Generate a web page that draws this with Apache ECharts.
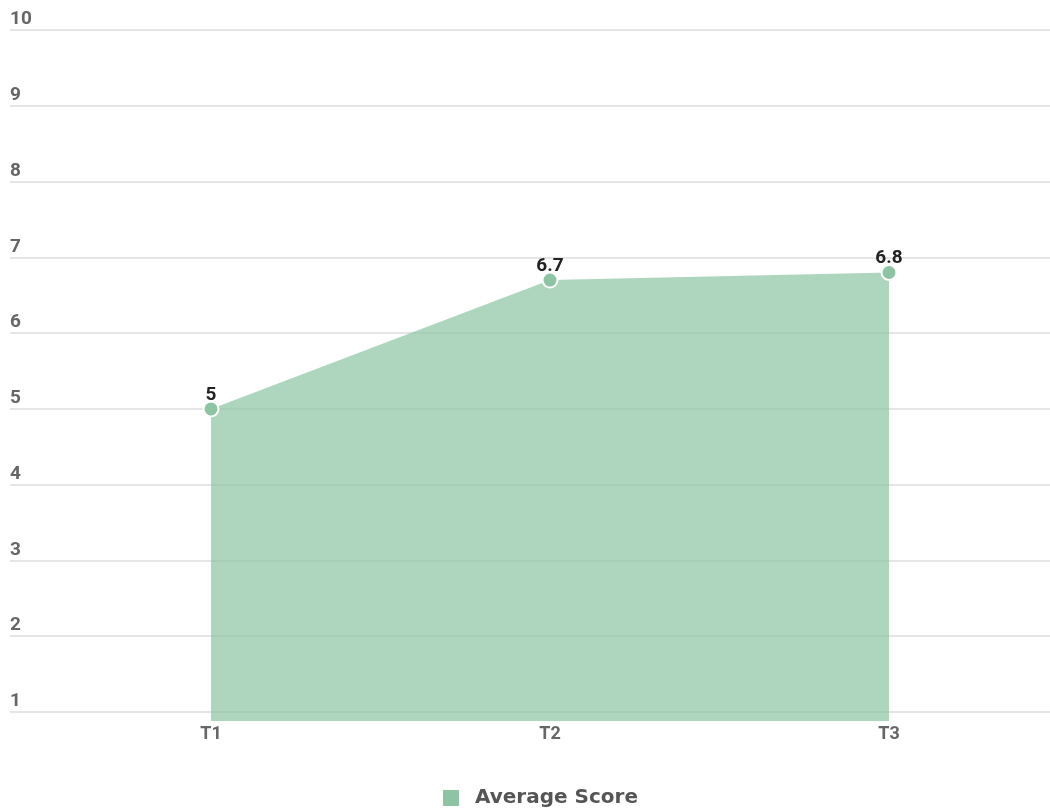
<!DOCTYPE html>
<html>
<head>
<meta charset="utf-8">
<script src="https://cdn.jsdelivr.net/npm/echarts@6/dist/echarts.min.js"></script>
<style>
  html, body { margin: 0; padding: 0; background: #fff; }
  #chart { width: 1050px; height: 810px; }
</style>
</head>
<body>
<div id="chart"></div>
<script>
  var categories = ['T1', 'T2', 'T3'];
  var scores = [5, 6.7, 6.8];
  var seriesName = 'Average Score';

  var myChart = echarts.init(document.getElementById('chart'));
  var option = {
    animation: false,
    legend: {
      data: [seriesName],
      left: 436,
      top: 783,
      icon: 'rect',
      itemWidth: 18,
      itemHeight: 18,
      textStyle: {
        fontFamily: 'DejaVu Sans',
        fontWeight: 'bold',
        fontSize: 20,
        color: '#555',
        padding: [0, 0, 0, 10]
      }
    },
    grid: [
      // gridlines + y labels
      { left: 10, right: 0, top: 30, bottom: 98, containLabel: false },
      // plotted series, T1..T3 on the grid edges
      { left: 211, right: 161, top: 30, bottom: 89, containLabel: false }
    ],
    xAxis: [
      { type: 'category', gridIndex: 0, data: categories, show: false },
      {
        type: 'category',
        gridIndex: 1,
        data: categories,
        boundaryGap: false,
        axisLine: { show: false },
        axisTick: { show: false },
        axisLabel: {
          margin: 4,
          fontFamily: 'Roboto',
          fontWeight: 'bold',
          fontSize: 18,
          color: '#666'
        }
      }
    ],
    yAxis: [
      {
        type: 'value',
        gridIndex: 0,
        min: 1,
        max: 10,
        interval: 1,
        axisLine: { show: false },
        axisTick: { show: false },
        splitLine: { lineStyle: { color: '#dcdcdc', width: 1.5 } },
        axisLabel: {
          inside: true,
          margin: 0,
          verticalAlign: 'bottom',
          padding: [0, 0, 1, 0],
          fontFamily: 'Roboto',
          fontWeight: 'bold',
          fontSize: 19,
          color: '#666'
        }
      },
      {
        type: 'value',
        gridIndex: 1,
        min: 0.881,
        max: 10,
        show: false,
        splitLine: { show: false }
      }
    ],
    series: [{
      name: seriesName,
      type: 'line',
      xAxisIndex: 1,
      yAxisIndex: 1,
      data: scores,
      symbol: 'circle',
      symbolSize: 15,
      itemStyle: {
        color: '#8cc4a4',
        borderColor: '#fff',
        borderWidth: 2
      },
      lineStyle: { width: 0 },
      areaStyle: { color: '#8cc4a4', opacity: 0.7, origin: 'start' },
      label: {
        show: true,
        position: 'top',
        distance: 0,
        offset: [0, 4],
        fontFamily: 'Roboto',
        fontWeight: 'bold',
        fontSize: 19,
        color: '#222'
      }
    }]
  };
  myChart.setOption(option);
</script>
</body>
</html>
